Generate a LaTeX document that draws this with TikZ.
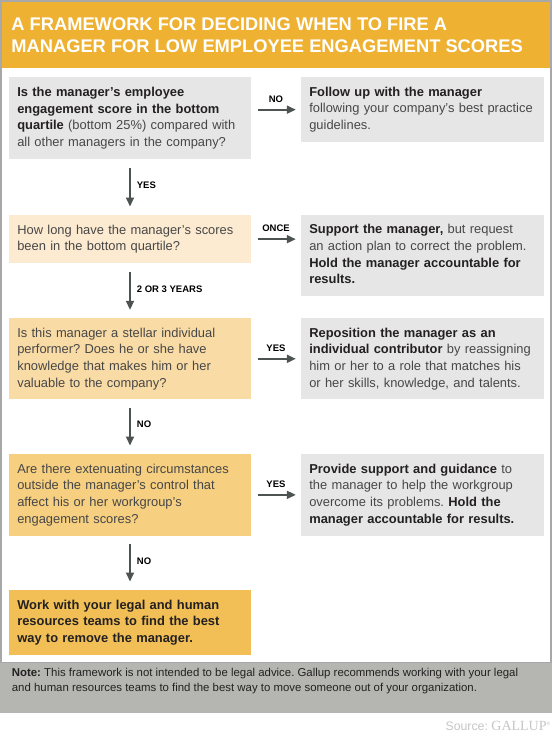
\documentclass[tikz,border=0pt]{standalone}
\usepackage{fontspec}
\setmainfont{Liberation Sans}
\newfontfamily\gallupfont{Liberation Serif}
\usetikzlibrary{arrows.meta}
\frenchspacing
\hyphenpenalty=10000\relax
\definecolor{hdr}{HTML}{EEB132}
\definecolor{framec}{HTML}{A8A8A8}
\definecolor{grayb}{HTML}{E6E6E7}
\definecolor{o1}{HTML}{FDEBD1}
\definecolor{o2}{HTML}{F9DBA6}
\definecolor{o3}{HTML}{F6CF81}
\definecolor{o4}{HTML}{F2BF56}
\definecolor{noteb}{HTML}{B5B6B1}
\definecolor{txt}{HTML}{474747}
\definecolor{txtb}{HTML}{232021}
\definecolor{arrc}{HTML}{4D5253}
\definecolor{srcc}{HTML}{C6C6C6}
\newcommand{\hb}[1]{{\bfseries\color{txtb}#1}}
\newcommand{\topst}{\rule{0pt}{9.4pt}}
\newcommand{\botst}{\rule[-2.8pt]{0pt}{2.8pt}}
\tikzset{
  box/.style={rectangle, inner xsep=8.3pt, inner ysep=0pt, align=left,
    font=\fontsize{12.9}{16.7}\selectfont, text=txt},
  qbox/.style={box, text width=225.4pt},
  rbox/.style={box, text width=226.4pt},
  arr/.style={draw=arrc, line width=1.8pt, -{Triangle[length=9pt,width=8pt]}},
  darr/.style={arr, shorten <=8.5pt, shorten >=8.3pt},
  rarr/.style={arr, shorten <=6.3pt, shorten >=5pt},
  lab/.style={font=\fontsize{9.5}{10}\selectfont\bfseries, text=black, inner sep=0pt},
  dlab/.style={lab, pos=0.5, anchor=west, xshift=6pt, yshift=2pt},
  rlab/.style={lab, midway, above=6.3pt}
}
\begin{document}
\begin{tikzpicture}[x=1pt,y=-1pt]
\useasboundingbox (0,0) rectangle (552,737);
\fill[white] (0,0) rectangle (552,737);
\draw[framec, line width=1.5pt] (0.75,0.75) rectangle (550.75,663);
\fill[hdr] (1.5,1.5) rectangle (550,68);
\fill[noteb] (0,662.7) rectangle (552,713.3);

\node[anchor=north west, inner sep=0pt, align=left, text=white,
  font=\fontsize{18.3}{21.6}\selectfont\bfseries] (title) at (11.2,16.7)
  {\rule{0pt}{14pt}A FRAMEWORK FOR DECIDING WHEN TO FIRE A\\
   MANAGER FOR LOW EMPLOYEE ENGAGEMENT SCORES};

% question column
\node[qbox, fill=grayb, minimum height=82pt] (q1) at (130,118.3)
  {\topst\hb{Is the manager’s employee}\\
   \hb{engagement score in the bottom}\\
   \hb{quartile} (bottom 25\%) compared with\\
   all other managers in the company?\botst};
\node[qbox, fill=o1, minimum height=48.3pt] (q2) at (130,239.15)
  {\topst How long have the manager’s scores\\
   been in the bottom quartile?\botst};
\node[qbox, fill=o2, minimum height=81pt] (q3) at (130,358.8)
  {\topst Is this manager a stellar individual\\
   performer? Does he or she have\\
   knowledge that makes him or her\\
   valuable to the company?\botst};
\node[qbox, fill=o3, minimum height=81.7pt] (q4) at (130,494.85)
  {\topst Are there extenuating circumstances\\
   outside the manager’s control that\\
   affect his or her workgroup’s\\
   engagement scores?\botst};
\node[qbox, fill=o4, minimum height=65pt] (q5) at (130,622.5)
  {\topst\hb{Work with your legal and human}\\
   \hb{resources teams to find the best}\\
   \hb{way to remove the manager.}\botst};

% result column
\node[rbox, fill=grayb, minimum height=64.7pt] (r1) at (422.5,109.65)
  {\topst\hb{Follow up with the manager}\\
   following your company’s best practice\\
   guidelines.\botst};
\node[rbox, fill=grayb, minimum height=81pt] (r2) at (422.5,255.5)
  {\topst\hb{Support the manager,} but request\\
   an action plan to correct the problem.\\
   \hb{Hold the manager accountable for}\\
   \hb{results.}\botst};
\node[rbox, fill=grayb, minimum height=81pt] (r3) at (422.5,358.8)
  {\topst\hb{Reposition the manager as an}\\
   \hb{individual contributor} by reassigning\\
   him or her to a role that matches his\\
   or her skills, knowledge, and talents.\botst};
\node[rbox, fill=grayb, minimum height=81.7pt] (r4) at (422.5,494.85)
  {\topst\hb{Provide support and guidance} to\\
   the manager to help the workgroup\\
   overcome its problems. \hb{Hold the}\\
   \hb{manager accountable for results.}\botst};

% down arrows
\draw[darr] (q1) -- node[dlab] {YES} (q2);
\draw[darr] (q2) -- node[dlab] {2 OR 3 YEARS} (q3);
\draw[darr] (q3) -- node[dlab] {NO} (q4);
\draw[darr] (q4) -- node[dlab] {NO} (q5);

% right arrows
\draw[rarr] (q1.east |- r1.west) -- node[rlab] {NO} (r1.west);
\draw[rarr] (q2.east) -- node[rlab] {ONCE} (q2.east -| r2.west);
\draw[rarr] (q3.east) -- node[rlab] {YES} (r3.west);
\draw[rarr] (q4.east) -- node[rlab] {YES} (r4.west);

% note
\node[anchor=north west, inner sep=0pt, align=left, text=txtb,
  font=\fontsize{11.4}{15}\selectfont] (note) at (11.7,666.7)
  {\rule{0pt}{10pt}\textbf{Note:} This framework is not intended to be legal advice. Gallup recommends working with your legal\\
   and human resources teams to find the best way to move someone out of your organization.};

% source
\node[anchor=base east, inner sep=0pt, text=srcc] (source) at (550.5,730)
  {\fontsize{12.3}{14}\selectfont Source: {\gallupfont\fontsize{14}{14}\selectfont GALLUP}\raisebox{5pt}{\fontsize{5}{5}\selectfont ®}};
\end{tikzpicture}
\end{document}
